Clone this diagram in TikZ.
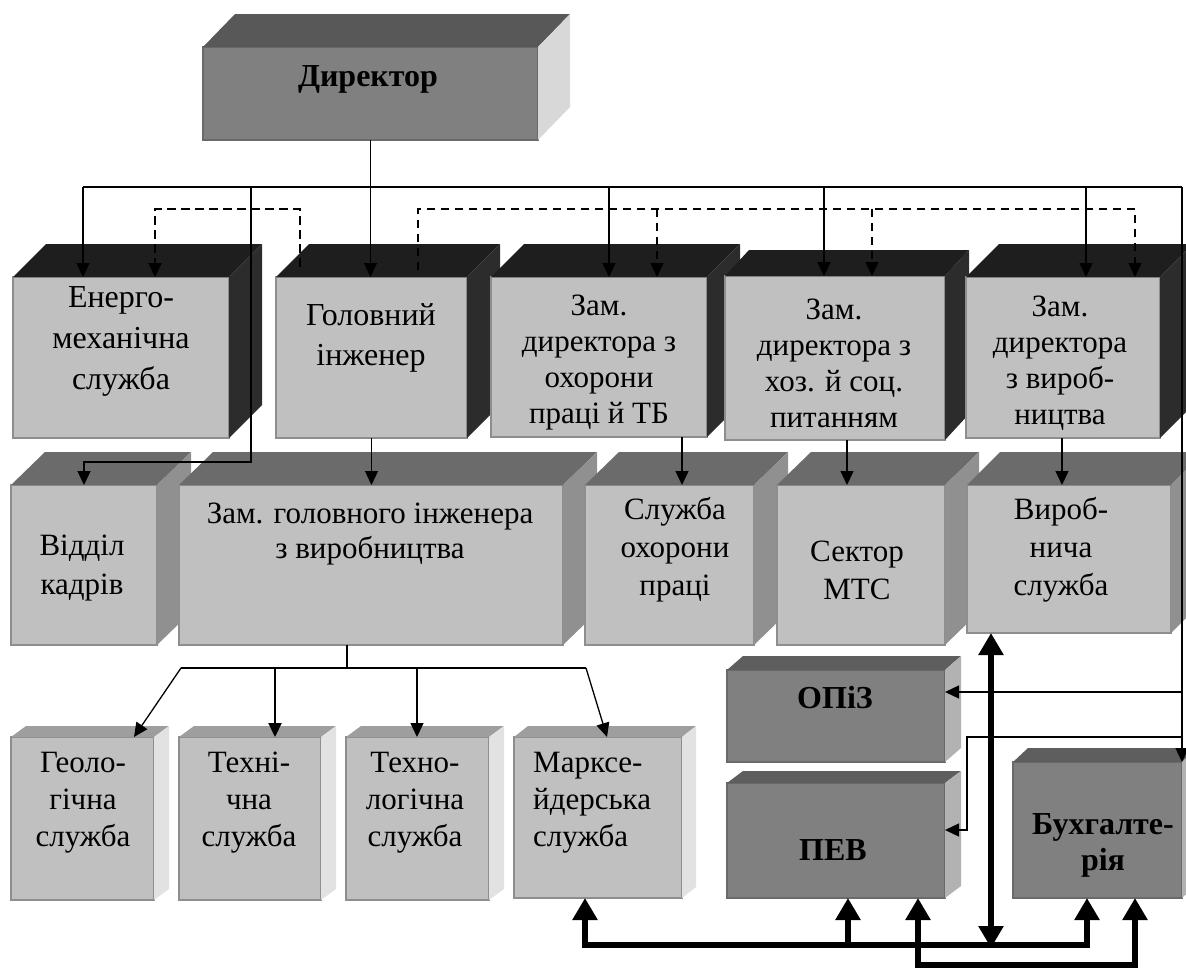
\documentclass[tikz,border=0pt]{standalone}
\usepackage{fontspec}
\setmainfont{Liberation Serif}
\usetikzlibrary{arrows.meta}

\definecolor{frontlight}{HTML}{C0C0C0}
\definecolor{frontdark}{HTML}{808080}
\definecolor{edgelight}{HTML}{8E8E8E}
\definecolor{edgedark}{HTML}{6A6A6A}
\definecolor{dirtop}{HTML}{585858}
\definecolor{dirside}{HTML}{D8D8D8}
\definecolor{onetop}{HTML}{1E1E1E}
\definecolor{oneside}{HTML}{2C2C2C}
\definecolor{twotop}{HTML}{6B6B6B}
\definecolor{twoside}{HTML}{909090}
\definecolor{threetop}{HTML}{9E9E9E}
\definecolor{threeside}{HTML}{E2E2E2}
\definecolor{servtop}{HTML}{5E5E5E}
\definecolor{servside}{HTML}{B2B2B2}

% top and side faces of a box: name, dx, dy, top colour, side colour
\newcommand{\boxfaces}[5]{%
\fill[#4] (#1.north west) -- ([shift={(#2,#3)}]#1.north west) -- ([shift={(#2,#3)}]#1.north east) -- (#1.north east) -- cycle;
\fill[#5] (#1.north east) -- ([shift={(#2,#3)}]#1.north east) -- ([shift={(#2,#3)}]#1.south east) -- (#1.south east) -- cycle;}

\begin{document}
\begin{tikzpicture}[x=1pt, y=-1pt]
\tikzset{front/.style={draw=edgelight, line width=1.2pt, fill=frontlight, inner sep=0pt, outer sep=0pt},
  dfront/.style={front, draw=edgedark, fill=frontdark},
  txt/.style={align=center, inner sep=0pt, font=\fontsize{31}{37}\selectfont},
  btxt/.style={align=center, inner sep=0pt, font=\fontsize{32}{36}\selectfont\bfseries},
  ln/.style={line width=1.3pt},
  med/.style={line width=2.2pt},
  arr/.style={line width=1.3pt, -{Triangle[width=13pt,length=14pt]}},
  dshA/.style={line width=2pt, dash pattern=on 9pt off 5pt},
  dshB/.style={line width=1.3pt, dash pattern=on 8pt off 6pt},
  thk/.style={line width=6pt, {Triangle[width=24pt,length=22pt]}-{Triangle[width=24pt,length=22pt]}},
  thkup/.style={line width=6pt, -{Triangle[width=24pt,length=22pt]}}}
\useasboundingbox (0,0) rectangle (1186,969);
\clip (0,0) rectangle (1186,969);

% director
\node[dfront, minimum width=335pt, minimum height=93pt] (dir) at (370.5,93.5) {};
\boxfaces{dir}{32}{-33}{dirtop}{dirside}
\node[btxt] (tdir) at (368,79) {Директор};

% first row
\node[front, minimum width=216pt, minimum height=161pt] (ener) at (121,357.5) {};
\boxfaces{ener}{33}{-33}{onetop}{oneside}
\node[front, minimum width=191pt, minimum height=161pt] (gol) at (371.5,357.5) {};
\boxfaces{gol}{33}{-33}{onetop}{oneside}
\node[front, minimum width=216pt, minimum height=160pt] (ohor) at (599,357) {};
\boxfaces{ohor}{33}{-33}{onetop}{oneside}
\node[front, minimum width=220pt, minimum height=164pt] (hoz) at (835,358) {};
\boxfaces{hoz}{24}{-26}{onetop}{oneside}
\node[front, minimum width=194pt, minimum height=161pt] (vyr) at (1063,357.5) {};
\boxfaces{vyr}{33}{-33}{onetop}{oneside}
\node[txt, font=\fontsize{32}{41}\selectfont] (tener) at (121,341) {Енерго-\\механічна\\служба};
\node[txt, font=\fontsize{32}{40}\selectfont] (tgol) at (371,338) {Головний\\інженер};
\node[txt, font=\fontsize{31}{36}\selectfont] (tohor) at (599,363) {Зам.\\директора з\\охорони\\праці й ТБ};
\node[txt, font=\fontsize{31}{36}\selectfont] (thoz) at (834,363) {Зам.\\директора з\\хоз. й соц.\\питанням};
\node[txt, font=\fontsize{31}{36}\selectfont] (tvyr) at (1060,363) {Зам.\\директора\\з вироб-\\ництва};

% second row
\node[front, minimum width=146pt, minimum height=160pt] (kadr) at (84,565) {};
\boxfaces{kadr}{34}{-33}{twotop}{twoside}
\node[front, minimum width=384pt, minimum height=160pt] (zgi) at (371,565) {};
\boxfaces{zgi}{34}{-33}{twotop}{twoside}
\node[front, minimum width=169pt, minimum height=160pt] (sohp) at (669.5,565) {};
\boxfaces{sohp}{34}{-33}{twotop}{twoside}
\node[front, minimum width=168pt, minimum height=160pt] (mts) at (861,565) {};
\boxfaces{mts}{34}{-33}{twotop}{twoside}
\node[front, minimum width=204pt, minimum height=148pt] (vsl) at (1069,559) {};
\boxfaces{vsl}{33}{-33}{twotop}{twoside}
\node[txt, font=\fontsize{31}{39}\selectfont] (tkadr) at (82,568) {Відділ\\кадрів};
\node[txt, font=\fontsize{31}{35}\selectfont] (tzgi) at (370,534) {Зам. головного інженера\\з виробництва};
\node[txt, font=\fontsize{31}{38}\selectfont] (tsohp) at (675,550) {Служба\\охорони\\праці};
\node[txt, font=\fontsize{31}{38}\selectfont] (tmts) at (857,570) {Сектор\\МТС};
\node[txt, font=\fontsize{31}{38}\selectfont] (tvsl) at (1061,550) {Вироб-\\нича\\служба};

% third row
\node[front, minimum width=143pt, minimum height=163pt] (geo) at (82.5,818.5) {};
\boxfaces{geo}{15}{-11}{threetop}{threeside}
\node[front, minimum width=142pt, minimum height=163pt] (tech) at (250,818.5) {};
\boxfaces{tech}{15}{-11}{threetop}{threeside}
\node[front, minimum width=143pt, minimum height=163pt] (tlog) at (417.5,818.5) {};
\boxfaces{tlog}{15}{-11}{threetop}{threeside}
\node[front, minimum width=168pt, minimum height=161pt] (marks) at (598,817.5) {};
\boxfaces{marks}{14}{-11}{threetop}{threeside}
\node[txt] (tgeo) at (83,803) {Геоло-\\гічна\\служба};
\node[txt] (ttech) at (249,803) {Техні-\\чна\\служба};
\node[txt] (ttlog) at (415,803) {Техно-\\логічна\\служба};
\node[txt, align=left, anchor=west] (tmarks) at (533,803) {Марксе-\\йдерська\\служба};

% services
\node[dfront, minimum width=218pt, minimum height=92pt] (opiz) at (836,716) {};
\boxfaces{opiz}{16}{-14}{servtop}{servside}
\node[dfront, minimum width=218pt, minimum height=115pt] (pev) at (836,840.5) {};
\boxfaces{pev}{16}{-12}{servtop}{servside}
\node[dfront, minimum width=169pt, minimum height=136pt] (buh) at (1097.5,830) {};
\boxfaces{buh}{15}{-14}{servtop}{servside}
\node[btxt] (topiz) at (835,698) {ОПіЗ};
\node[btxt] (tpev) at (833,850) {ПЕВ};
\node[btxt] (tbuh) at (1103,845) {Бухгалте-\\рія};

% subordination
\coordinate (busL) at (83,187);
\coordinate (busR) at (1182,187);
\coordinate (bk) at (251,187);
\coordinate (b1) at (609,187);
\coordinate (b2) at (824,187);
\coordinate (b3) at (1086,187);
\draw[ln] (busL) -- (busR);
\draw[arr] (dir.south) -- (dir.south |- gol.north);
\draw[arr] (busL) -- (busL |- ener.north);
\draw[arr, med] (b1) -- (b1 |- ohor.north);
\draw[arr, med] (b2) -- (b2 |- hoz.north);
\draw[arr] (b3) -- (b3 |- vyr.north);
\draw[arr] (busR) -- (busR |- buh.north);
\coordinate (kk) at (251,462);
\draw[arr] (bk) -- (kk) -| (kadr.north);

% coordination
\coordinate (d1) at (300,267);
\coordinate (d2) at (155,209);
\draw[arr, dshA] (d1) |- (d2) -- (d2 |- ener.north);
\coordinate (e1) at (418,270);
\coordinate (e2) at (1135,209);
\coordinate (e3) at (657,209);
\coordinate (e4) at (872,209);
\draw[arr, dshB] (e1) |- (e2) -- (e2 |- vyr.north);
\draw[arr, dshB] (e3) -- (e3 |- ohor.north);
\draw[arr, dshB] (e4) -- (e4 |- hoz.north);

% first row to second row
\draw[arr] (gol.south) -- (gol.south |- zgi.north);
\coordinate (c1) at (682,437);
\coordinate (c2) at (847,440);
\coordinate (c3) at (1062,438);
\draw[arr] (c1) -- (c1 |- sohp.north);
\draw[arr] (c2) -- (c2 |- mts.north);
\draw[arr] (c3) -- (c3 |- vsl.north);

% chief engineer services
\coordinate (fk) at (347,668);
\coordinate (fL) at (181,668);
\coordinate (fR) at (586,668);
\coordinate (f2) at (275,668);
\coordinate (f3) at (417,668);
\draw[ln] (zgi.south -| fk) -- (fk);
\draw[ln] (fL) -- (fR);
\draw[arr] (fL) -- ([xshift=-20pt]geo.north east);
\draw[arr, med] (f2) -- (f2 |- tech.north);
\draw[arr] (f3) -- (f3 |- tlog.north);
\draw[arr] (fR) -- ([xshift=93pt]marks.north west);

% right side
\coordinate (r1) at (1182,692);
\coordinate (r2) at (1182,737);
\coordinate (r3) at (967,830);
\draw[arr] (r1) -- (r1 -| opiz.east);
\draw[arr] (r2) -| (r3) -- (r3 -| pev.east);

% information links
\coordinate (h1) at (585,945);
\coordinate (h2) at (848,945);
\coordinate (h3) at (991,945);
\coordinate (h4) at (1087,945);
\coordinate (g1) at (918,965);
\coordinate (g2) at (1135,965);
\draw[thk] (h1 |- marks.south) -- (h1) -- (h4) -- (h4 |- buh.south);
\draw[thkup] (h2) -- (h2 |- pev.south);
\draw[thk] (h3 |- vsl.south) -- ([yshift=-3pt]h3);
\draw[thk] (g1 |- pev.south) -- (g1) -- (g2) -- (g2 |- buh.south);
\end{tikzpicture}
\end{document}
